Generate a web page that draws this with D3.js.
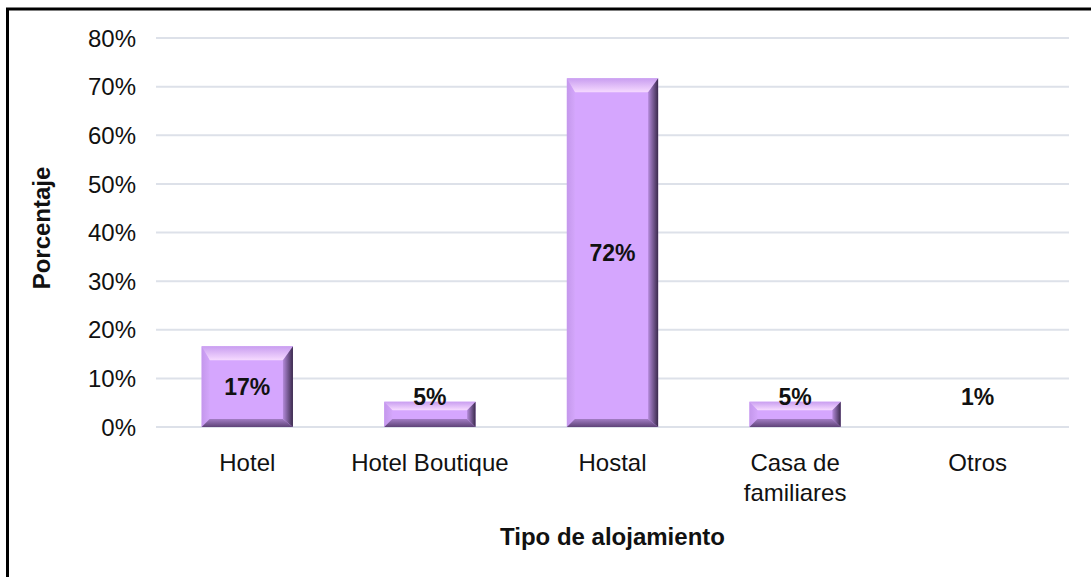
<!DOCTYPE html>
<html>
<head>
<meta charset="utf-8">
<script src="https://cdn.jsdelivr.net/npm/d3@7"></script>
<style>
	body { margin: 0; background: #fff; }
	svg { display: block; font-family: "Liberation Sans", Arial, sans-serif; }
</style>
</head>
<body>
<div id="chart"></div>
<script>
	// values
	const categories = ["Hotel", "Hotel Boutique", "Hostal", "Casa de\nfamiliares", "Otros"];
	const values = [16.6, 5.2, 71.7, 5.2, 0];
	const valueLabels = ["17%", "5%", "72%", "5%", "1%"];
	const yTicks = [0, 10, 20, 30, 40, 50, 60, 70, 80];

	const width = 1091, height = 577,
		margin = {top: 38, right: 22, bottom: 150, left: 156};

	const svg = d3.select("#chart").append("svg")
		.attr("width", width)
		.attr("height", height);

	const defs = svg.append("defs");
	function grad(id, x2, y2, stops) {
		const g = defs.append("linearGradient").attr("id", id)
			.attr("x1", 0).attr("y1", 0).attr("x2", x2).attr("y2", y2);
		stops.forEach(([o, c]) => g.append("stop").attr("offset", o).attr("stop-color", c));
	}
	grad("bevTop", 0, 1, [[0, "#C99EF0"], [1, "#F6DAFF"]]);
	grad("bevRight", 1, 0, [[0, "#B48ADA"], [1, "#3A2A4C"]]);
	grad("bevBottom", 0, 1, [[0, "#A27DC4"], [1, "#5E4378"]]);
	grad("bevLeft", 1, 0, [[0, "#C497EC"], [1, "#D3A6FA"]]);

	// frame (only top and left edges visible in the picture)
	svg.append("rect")
		.attr("x", 7.5).attr("y", 9)
		.attr("width", 1200).attr("height", 700)
		.attr("fill", "none").attr("stroke", "#000").attr("stroke-width", 3);

	const x = d3.scaleBand()
		.domain(categories)
		.range([margin.left, width - margin.right])
		.paddingInner(0.5)
		.paddingOuter(0.25);

	const y = d3.scaleLinear()
		.domain([0, 80])
		.range([427, margin.top]);

	// gridlines
	svg.append("g")
		.selectAll("line")
		.data(yTicks)
		.join("line")
		.attr("x1", margin.left).attr("x2", width - margin.right)
		.attr("y1", d => y(d)).attr("y2", d => y(d))
		.attr("stroke", "#DDE1E9").attr("stroke-width", 2);

	// y tick labels
	svg.append("g")
		.selectAll("text")
		.data(yTicks)
		.join("text")
		.attr("x", 136)
		.attr("y", d => y(d))
		.attr("dy", "0.36em")
		.attr("text-anchor", "end")
		.attr("font-size", 24)
		.attr("fill", "#111")
		.text(d => d + "%");

	// bevelled bars
	const bars = svg.append("g")
		.selectAll("g")
		.data(categories.map((c, i) => ({c, v: values[i], label: valueLabels[i]})))
		.join("g");

	bars.each(function (d) {
		if (d.v <= 0) return;
		const g = d3.select(this),
			x0 = x(d.c), x1 = x0 + x.bandwidth(),
			y0 = y(d.v), y1 = y(0),
			h = y1 - y0,
			bt = Math.min(14, h / 3), bs = Math.min(10, h / 3),
			bl = Math.min(8, h / 3);
		g.append("rect").attr("x", x0).attr("y", y0)
			.attr("width", x1 - x0).attr("height", h).attr("fill", "#D5A6FE");
		const poly = (pts, fill) => g.append("path")
			.attr("d", "M" + pts.map(p => p.join(",")).join("L") + "Z")
			.attr("fill", fill);
		poly([[x0, y0], [x1, y0], [x1 - bs, y0 + bt], [x0 + bl, y0 + bt]], "url(#bevTop)");
		poly([[x0, y0], [x0 + bl, y0 + bt], [x0 + bl, y1 - bl], [x0, y1]], "url(#bevLeft)");
		poly([[x0, y1], [x0 + bl, y1 - bl], [x1 - bs, y1 - bl], [x1, y1]], "url(#bevBottom)");
		poly([[x1, y0], [x1, y1], [x1 - bs, y1 - bl], [x1 - bs, y0 + bt]], "url(#bevRight)");
	});

	// value labels: centred in tall bars, just above short ones
	bars.append("text")
		.attr("x", d => x(d.c) + x.bandwidth() / 2)
		.attr("y", d => (y(0) - y(d.v) > 40) ? (y(d.v) + y(0)) / 2 : Math.min(y(d.v) - 5, y(0) - 30))
		.attr("dy", "0.36em")
		.attr("text-anchor", "middle")
		.attr("font-size", 23)
		.attr("font-weight", "bold")
		.attr("fill", "#111")
		.text(d => d.label);

	// category labels
	svg.append("g")
		.selectAll("text")
		.data(categories)
		.join("text")
		.attr("x", d => x(d) + x.bandwidth() / 2)
		.attr("y", 471)
		.attr("text-anchor", "middle")
		.attr("font-size", 24)
		.attr("fill", "#111")
		.each(function (d) {
			d.split("\n").forEach((line, i) => {
				d3.select(this).append("tspan")
					.attr("x", x(d) + x.bandwidth() / 2)
					.attr("dy", i ? 30 : 0)
					.text(line);
			});
		});

	// axis titles
	svg.append("text")
		.attr("x", x(categories[2]) + x.bandwidth() / 2)
		.attr("y", 545)
		.attr("text-anchor", "middle")
		.attr("font-size", 24)
		.attr("font-weight", "bold")
		.attr("fill", "#111")
		.text("Tipo de alojamiento");

	svg.append("text")
		.attr("transform", "translate(50,228) rotate(-90)")
		.attr("text-anchor", "middle")
		.attr("font-size", 24)
		.attr("font-weight", "bold")
		.attr("fill", "#111")
		.text("Porcentaje");
</script>
</body>
</html>
